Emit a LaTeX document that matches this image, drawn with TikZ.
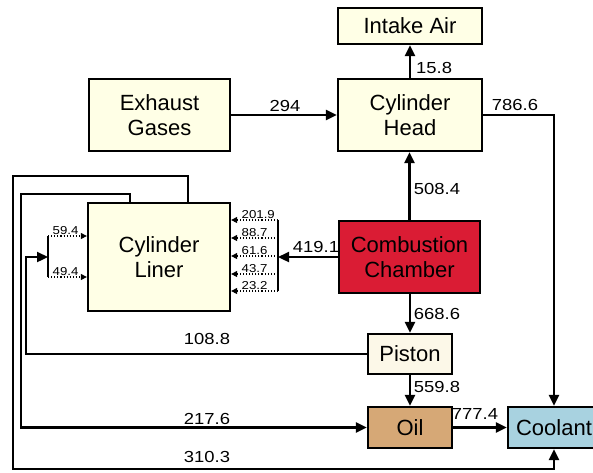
\documentclass[tikz,border=0pt]{standalone}
\usepackage{fontspec}
\setmainfont{Liberation Sans}
\newfontfamily\numfont[FakeStretch=1.15]{Liberation Sans}
\usetikzlibrary{arrows.meta}
\definecolor{cream}{RGB}{255,255,230}
\definecolor{combred}{RGB}{218,28,52}
\definecolor{pistonfill}{RGB}{252,248,232}
\definecolor{oilfill}{RGB}{214,168,118}
\definecolor{coolfill}{RGB}{168,210,224}
\begin{document}
\begin{tikzpicture}[x=1pt,y=-1pt,
 box/.style={draw=black, line width=2.3pt, fill=cream, align=center,
   font=\fontsize{22}{25}\selectfont, inner sep=0pt},
 flow/.style={line width=2.3pt, -{Triangle[length=11pt,width=10pt]}},
 thinline/.style={line width=1.3pt},
 num/.style={font=\numfont\fontsize{16}{16}\selectfont, inner sep=1pt},
 snum/.style={font=\numfont\fontsize{11.5}{11.5}\selectfont, inner sep=0.5pt, anchor=south west},
 sub/.style={line width=1.1pt, dotted, -{Triangle[length=6pt,width=6pt]}}]
\useasboundingbox (0,0) rectangle (593,472);
\fill[white] (0,0) rectangle (593,472);

% boxes
\node[box, minimum width=144pt, minimum height=36pt] (intake) at (410,26) {Intake Air};
\node[box, minimum width=141pt, minimum height=72pt] (exhaust) at (159.5,115) {Exhaust\\Gases};
\node[box, minimum width=144pt, minimum height=72pt] (head) at (410,115) {Cylinder\\Head};
\node[box, minimum width=142pt, minimum height=108pt] (liner) at (159,257) {Cylinder\\Liner};
\node[box, fill=combred, minimum width=141pt, minimum height=72pt] (comb) at (409.5,257) {Combustion\\Chamber};
\node[box, fill=pistonfill, minimum width=84pt, minimum height=40pt] (piston) at (410,354) {Piston};
\node[box, fill=oilfill, minimum width=84pt, minimum height=41pt] (oil) at (410,427.5) {Oil};
\node[box, fill=coolfill, minimum width=92pt, minimum height=41pt] (coolant) at (554,427.5) {Coolant};

% coordinates
\coordinate (rj) at (278,257);
\coordinate (rtop) at (278,220);
\coordinate (rbot) at (278,291);
\coordinate (r1) at (278,220);
\coordinate (r2) at (278,238);
\coordinate (r3) at (278,256);
\coordinate (r4) at (278,274);
\coordinate (r5) at (278,291);
\coordinate (lj) at (48,257);
\coordinate (ltop) at (48,236);
\coordinate (lbot) at (48,277);
\coordinate (a1) at (26,257);
\coordinate (t2) at (130,194);
\coordinate (b2) at (21,427.5);
\coordinate (t3) at (188,176);
\coordinate (b3) at (13,469);

% main flows
\draw[flow] (head.north) -- (intake.south);
\node[num, anchor=west] (l158) at (415,68) {15.8};
\draw[flow] (exhaust.east) -- (head.west);
\node[num] (l294) at (285,106) {294};
\draw[flow] (head.east) -- (head.east -| coolant.north) -- (coolant.north);
\node[num] (l786) at (515,105) {786.6};
\draw[flow] (comb.north) -- (comb.north |- head.south);
\node[num] (l508) at (437,189) {508.4};
\draw[flow] (comb.west) -- (rj);
\node[num] (l419) at (316,247) {419.1};
\draw[flow] (comb.south -| piston.north) -- (piston.north);
\node[num] (l668) at (437,314) {668.6};
\draw[flow] (piston.south) -- (oil.north);
\node[num] (l559) at (437,387) {559.8};
\draw[flow] (oil.east) -- (coolant.west);
\node[num] (l777) at (475,414) {777.4};

% return lines
\draw[flow] (piston.west) -| (a1) -- (lj);
\node[num] (l108) at (207,339) {108.8};
\draw[flow] (liner.north -| t2) -- (t2) -| (b2) -- (oil.west);
\node[num] (l217) at (207,419) {217.6};
\draw[flow] (liner.north -| t3) -- (t3) -| (b3) -| (coolant.south);
\node[num] (l310) at (207,457) {310.3};

% right distribution
\draw[thinline] (rtop) -- (rbot);
\draw[sub] (r1) -- (liner.east |- r1);
\draw[sub] (r2) -- (liner.east |- r2);
\draw[sub] (r3) -- (liner.east |- r3);
\draw[sub] (r4) -- (liner.east |- r4);
\draw[sub] (r5) -- (liner.east |- r5);
\node[snum] (s1) at (241,219.5) {201.9};
\node[snum] (s2) at (241,237.5) {88.7};
\node[snum] (s3) at (241,255.5) {61.6};
\node[snum] (s4) at (241,273.5) {43.7};
\node[snum] (s5) at (241,290.5) {23.2};

% left distribution
\draw[thinline] (ltop) -- (lbot);
\draw[sub] (ltop) -- (liner.west |- ltop);
\draw[sub] (lbot) -- (liner.west |- lbot);
\node[snum] (s6) at (52,235.5) {59.4};
\node[snum] (s7) at (52,276.5) {49.4};
\end{tikzpicture}
\end{document}
